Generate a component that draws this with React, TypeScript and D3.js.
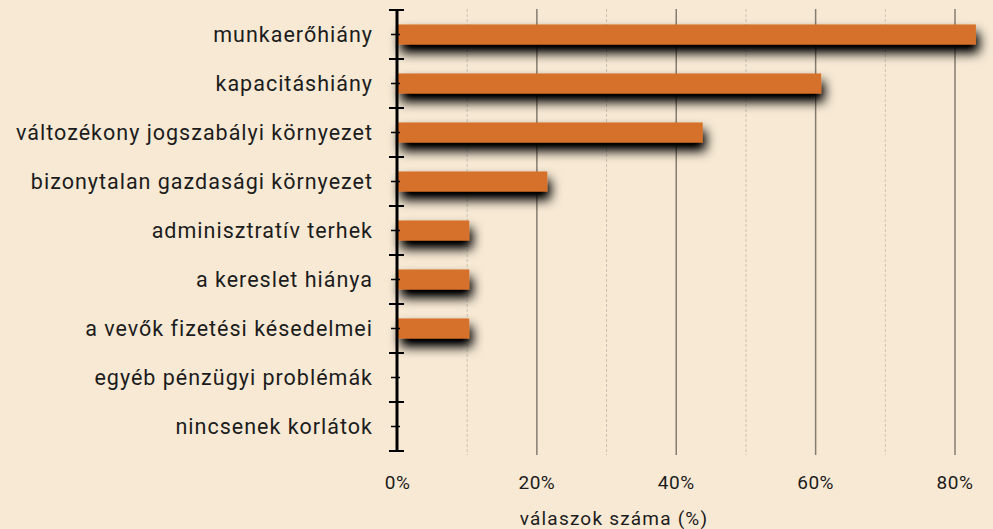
import React from 'react';
import { scaleLinear, scaleBand, range } from 'd3';

const categories = [
  'munkaerőhiány',
  'kapacitáshiány',
  'változékony jogszabályi környezet',
  'bizonytalan gazdasági környezet',
  'adminisztratív terhek',
  'a kereslet hiánya',
  'a vevők fizetési késedelmei',
  'egyéb pénzügyi problémák',
  'nincsenek korlátok',
];
const values = [83.0, 60.8, 43.8, 21.5, 10.3, 10.3, 10.3, 0, 0];
const majorTicks = [0, 20, 40, 60, 80];
const minorTicks = [10, 30, 50, 70];
const axisTitle = 'válaszok száma (%)';

const W = 993;
const H = 529;
const FONT = 'Roboto, "DejaVu Sans", sans-serif';

export default function App() {
  const x = scaleLinear().domain([0, 80]).range([397.5, 955]);
  const y = scaleBand<string>().domain(categories).range([10, 451]).padding(0);
  const bw = y.bandwidth();
  const barH = bw * 0.41;
  const axisX = 397;

  return (
    <svg width={W} height={H} style={{ position: 'absolute', left: 0, top: 0 }}>
      <defs>
        <filter id="shadow" x="-20%" y="-80%" width="140%" height="320%">
          <feGaussianBlur in="SourceAlpha" stdDeviation="6" />
          <feOffset dx="3" dy="8" result="off" />
          <feComponentTransfer result="dark">
            <feFuncA type="linear" slope="1.15" />
          </feComponentTransfer>
          <feMerge>
            <feMergeNode in="dark" />
            <feMergeNode in="SourceGraphic" />
          </feMerge>
        </filter>
      </defs>
      <rect width={W} height={H} fill="#f7e9d4" />

      {minorTicks.map((t) => (
        <line key={'m' + t} x1={x(t)} x2={x(t)} y1={9} y2={455}
          stroke="#cbc2b4" strokeWidth={1} strokeDasharray="3,2" />
      ))}
      {majorTicks.slice(1).map((t) => (
        <line key={'M' + t} x1={x(t)} x2={x(t)} y1={9} y2={455}
          stroke="#857c70" strokeWidth={1.5} />
      ))}

      {categories.map((c, i) => (
        values[i] > 0 ? (
          <rect key={c} x={x(0)} y={(y(c) as number) + bw / 2 - barH / 2}
            width={x(values[i]) - x(0)} height={barH}
            fill="#d5712a" filter="url(#shadow)" />
        ) : null
      ))}

      <line x1={axisX} x2={axisX} y1={10} y2={452} stroke="#000" strokeWidth={3} />
      {range(categories.length + 1).map((i) => {
        const yy = 10 + i * bw;
        return <line key={'t' + i} x1={389} x2={404} y1={yy} y2={yy} stroke="#000" strokeWidth={2} />;
      })}
      {categories.map((c) => {
        const yy = (y(c) as number) + bw / 2;
        return <line key={'c' + c} x1={391} x2={400} y1={yy} y2={yy} stroke="#000" strokeWidth={1.5} />;
      })}

      {categories.map((c) => (
        <text key={'l' + c} x={373} y={(y(c) as number) + bw / 2} dy="0.35em"
          textAnchor="end" fontFamily={FONT} fontSize={21.5} letterSpacing={1} fill="#1c1c1c">
          {c}
        </text>
      ))}

      {majorTicks.map((t) => (
        <text key={'x' + t} x={x(t)} y={482} dy="0.35em" textAnchor="middle"
          fontFamily={FONT} fontSize={19} letterSpacing={0.5} fill="#1c1c1c">
          {t}%
        </text>
      ))}

      <text x={614} y={518} dy="0.35em" textAnchor="middle" fontFamily={FONT}
        fontSize={19} letterSpacing={1.2} fill="#1c1c1c">
        {axisTitle}
      </text>
    </svg>
  );
}
